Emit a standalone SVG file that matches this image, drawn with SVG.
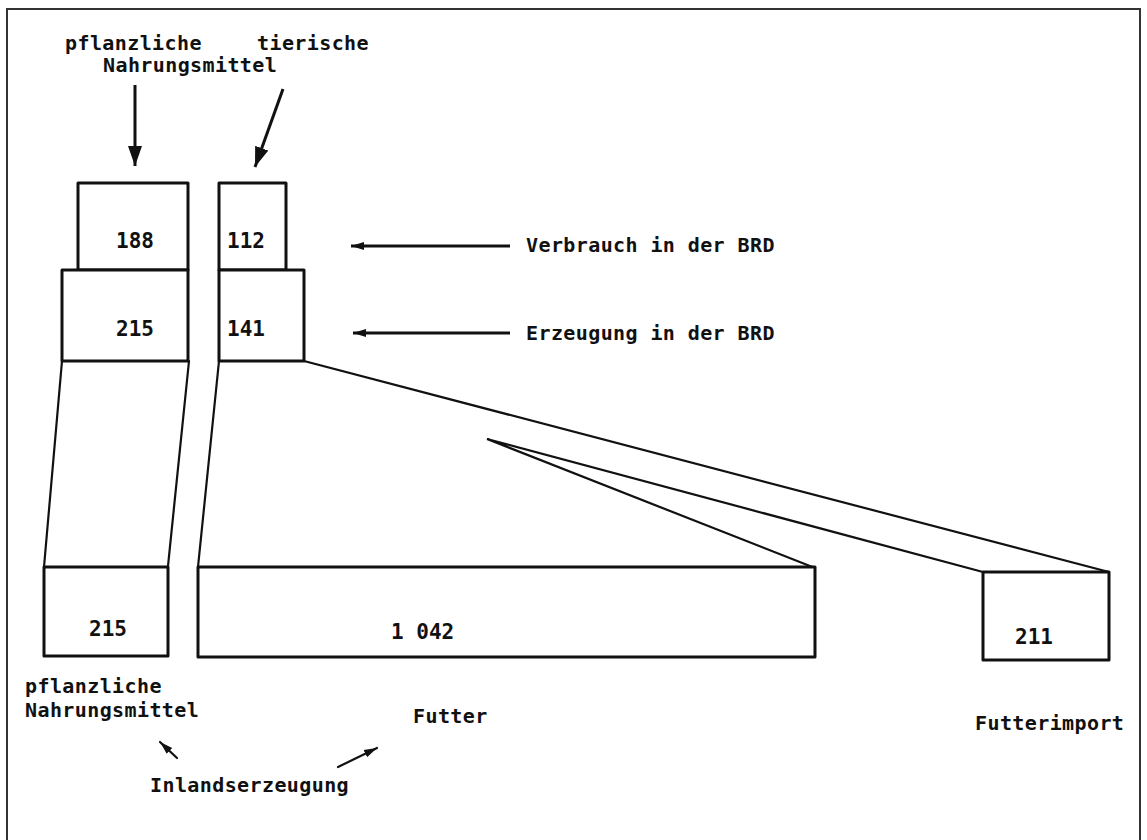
<svg xmlns="http://www.w3.org/2000/svg" width="1147" height="840" viewBox="0 0 1147 840">
<style>
.t{font-family:"DejaVu Sans Mono","Liberation Mono",monospace;font-size:20px;font-weight:bold;letter-spacing:0.4px;fill:#111}
.n{font-family:"DejaVu Sans Mono","Liberation Mono",monospace;font-size:21px;font-weight:bold;fill:#111}
.box{fill:#fff;stroke:#111;stroke-width:3;stroke-linejoin:round}
.ln{fill:none;stroke:#111;stroke-width:2.2;stroke-linecap:round}
.ar{fill:none;stroke:#111;stroke-width:3}
</style>
<defs>
<marker id="big" markerUnits="userSpaceOnUse" markerWidth="22" markerHeight="16" refX="20" refY="8" orient="auto">
<polygon points="0,1 20,8 0,15" fill="#111"/>
</marker>
<marker id="mid" markerUnits="userSpaceOnUse" markerWidth="14" markerHeight="10" refX="13" refY="5" orient="auto">
<polygon points="0,1 13,5 0,9" fill="#111"/>
</marker>
</defs>
<rect width="1147" height="840" fill="#fff"/>
<path d="M7,845 L7,9 L1140,9 L1140,845" fill="none" stroke="#333" stroke-width="2"/>
<g id="connectors">
<line class="ln" x1="62" y1="361" x2="44" y2="567"/>
<line class="ln" x1="189" y1="361" x2="168" y2="566"/>
<line class="ln" x1="219" y1="361" x2="198" y2="567"/>
<line class="ln" x1="304" y1="361" x2="1109" y2="572"/>
<polyline class="ln" points="815,568 487,439 983,572"/>
<line class="ar" x1="135" y1="85" x2="135" y2="166" marker-end="url(#big)"/>
<line class="ar" x1="283" y1="89" x2="255" y2="167" marker-end="url(#big)"/>
<line class="ar" x1="510" y1="246" x2="351" y2="246" marker-end="url(#mid)"/>
<line class="ar" x1="510" y1="333" x2="353" y2="333" marker-end="url(#mid)"/>
<line class="ln" x1="177" y1="758" x2="160" y2="742" marker-end="url(#mid)"/>
<line class="ln" x1="338" y1="767" x2="377" y2="748" marker-end="url(#mid)"/>
</g>
<g id="top-labels">
<text class="t" x="65" y="50">pflanzliche</text>
<text class="t" x="257" y="50">tierische</text>
<text class="t" x="103" y="72">Nahrungsmittel</text>
</g>
<g id="n188"><rect class="box" x="78" y="183" width="110" height="87"/><text class="n" x="116" y="248">188</text></g>
<g id="n215a"><rect class="box" x="62" y="270" width="126" height="91"/><text class="n" x="116" y="336">215</text></g>
<g id="n112"><rect class="box" x="219" y="183" width="67" height="87"/><text class="n" x="227" y="248">112</text></g>
<g id="n141"><rect class="box" x="219" y="270" width="85" height="91"/><text class="n" x="227" y="336">141</text></g>
<g id="verbrauch"><text class="t" x="526" y="252">Verbrauch in der BRD</text></g>
<g id="erzeugung"><text class="t" x="526" y="340">Erzeugung in der BRD</text></g>
<g id="n215b"><rect class="box" x="44" y="567" width="124" height="89"/><text class="n" x="89" y="636">215</text></g>
<g id="n1042"><rect class="box" x="198" y="567" width="617" height="90"/><text class="n" x="391" y="639">1 042</text></g>
<g id="n211"><rect class="box" x="983" y="572" width="126" height="88"/><text class="n" x="1015" y="644">211</text></g>
<g id="bottom-labels">
<text class="t" x="25" y="693">pflanzliche</text>
<text class="t" x="25" y="717">Nahrungsmittel</text>
<text class="t" x="413" y="723">Futter</text>
<text class="t" x="150" y="792">Inlandserzeugung</text>
<text class="t" x="975" y="730">Futterimport</text>
</g>
</svg>
